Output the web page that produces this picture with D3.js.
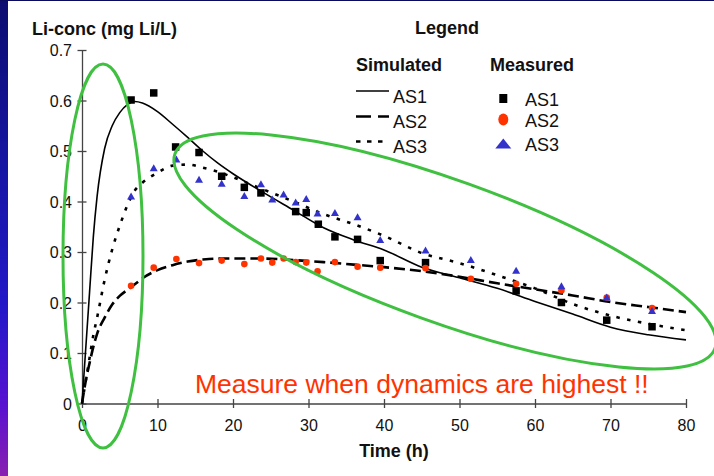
<!DOCTYPE html>
<html>
<head>
<meta charset="utf-8">
<script src="https://cdn.jsdelivr.net/npm/d3@7"></script>
<style>
  html, body { margin: 0; padding: 0; background: #fff; }
  svg { display: block; font-family: "Liberation Sans", Arial, sans-serif; }
</style>
</head>
<body>
<svg id="chart" width="714" height="476"></svg>
<script>
// Simulated Li concentration (mg Li/L) on a shared time grid (h)
const simTime = [0, 0.5, 1, 1.5, 2, 3, 4, 5, 6, 7, 8, 10, 12, 14, 16, 18, 20, 24, 28, 32, 36, 40, 45, 50, 55, 60, 65, 70, 75, 80];
const simAS1  = [0, 0.11, 0.22, 0.33, 0.41, 0.505, 0.55, 0.576, 0.592, 0.598, 0.595, 0.578, 0.553, 0.527, 0.500, 0.476, 0.455, 0.418, 0.383, 0.348, 0.324, 0.304, 0.270, 0.249, 0.228, 0.202, 0.177, 0.151, 0.136, 0.126];
const simAS2  = [0, 0.045, 0.08, 0.112, 0.138, 0.17, 0.196, 0.213, 0.225, 0.236, 0.248, 0.264, 0.274, 0.281, 0.285, 0.287, 0.287, 0.287, 0.284, 0.280, 0.275, 0.270, 0.262, 0.251, 0.238, 0.226, 0.214, 0.201, 0.191, 0.181];
const simAS3  = [0, 0.045, 0.09, 0.135, 0.17, 0.245, 0.305, 0.352, 0.392, 0.422, 0.437, 0.457, 0.471, 0.473, 0.467, 0.459, 0.448, 0.424, 0.400, 0.375, 0.355, 0.332, 0.298, 0.278, 0.254, 0.228, 0.197, 0.174, 0.158, 0.145];

// Measured samples
const measTimeAS1 = [6.5, 9.5, 12.4, 15.5, 18.5, 21.5, 23.7, 28.3, 29.7, 31.3, 33.5, 36.5, 39.5, 45.5, 57.5, 63.5, 69.5, 75.5];
const measAS1     = [0.601, 0.615, 0.508, 0.497, 0.450, 0.428, 0.417, 0.380, 0.378, 0.355, 0.330, 0.325, 0.283, 0.279, 0.223, 0.200, 0.165, 0.152];
const measTime    = [6.5, 9.5, 12.5, 15.5, 18.5, 21.5, 23.7, 25.2, 26.7, 28.3, 29.7, 31.2, 33.5, 36.5, 39.5, 45.5, 51.5, 57.5, 63.5, 69.5, 75.5];
const measAS2     = [0.233, 0.269, 0.286, 0.278, 0.283, 0.276, 0.287, 0.279, 0.287, 0.280, 0.279, 0.262, 0.280, 0.271, 0.269, 0.268, 0.247, 0.237, 0.224, 0.210, 0.189];
const measAS3     = [0.411, 0.467, 0.484, 0.444, 0.436, 0.412, 0.435, 0.405, 0.415, 0.399, 0.406, 0.377, 0.378, 0.370, 0.325, 0.304, 0.285, 0.264, 0.233, 0.211, 0.184];

const xTicks = [0, 10, 20, 30, 40, 50, 60, 70, 80];
const yTicks = [0, 0.1, 0.2, 0.3, 0.4, 0.5, 0.6, 0.7];
const seriesNames = ["AS1", "AS2", "AS3"];

const svg = d3.select("#chart");
const W = 714, H = 476;

// Slide background: white page with a coloured left edge
const defs = svg.append("defs");
const grad = defs.append("linearGradient").attr("id", "edge").attr("x1", 0).attr("y1", 0).attr("x2", 0).attr("y2", 1);
[[0, "#0c0c70"], [0.35, "#1616a4"], [0.65, "#2418c8"], [0.85, "#5812d0"], [1, "#8a20b0"]]
  .forEach(([o, c]) => grad.append("stop").attr("offset", o).attr("stop-color", c));
svg.append("rect").attr("width", W).attr("height", H).attr("fill", "#fff");
svg.append("rect").attr("x", 0).attr("y", 0).attr("width", 8).attr("height", H).attr("fill", "url(#edge)");
svg.append("rect").attr("x", 0).attr("y", 0).attr("width", W).attr("height", 1).attr("fill", "#0a0a60");

const x = d3.scaleLinear().domain([0, 80]).range([82, 686]);
const y = d3.scaleLinear().domain([0, 0.7]).range([403.5, 50]);

const axisColor = "#444";

// X axis with ticks crossing the line
const gx = svg.append("g").attr("transform", `translate(0,${y(0)})`)
  .call(d3.axisBottom(x).tickValues(xTicks).tickSizeOuter(0).tickFormat(d3.format("d")));
gx.select(".domain").attr("stroke", axisColor).attr("stroke-width", 1.3);
gx.selectAll(".tick line").attr("y1", -4.5).attr("y2", 4.5).attr("stroke", axisColor).attr("stroke-width", 1.3);
gx.selectAll(".tick text").attr("y", 27.5).attr("dy", null).attr("font-size", 16).attr("fill", "#111")
  .attr("font-family", "Liberation Sans, Arial, sans-serif");

// Y axis
const gy = svg.append("g").attr("transform", `translate(${x(0)},0)`)
  .call(d3.axisLeft(y).tickValues(yTicks).tickSizeOuter(0).tickFormat(d => d === 0 ? "0" : d3.format(".1f")(d)));
gy.select(".domain").attr("stroke", axisColor).attr("stroke-width", 1.3);
gy.selectAll(".tick line").attr("x1", -4.5).attr("x2", 4.5).attr("stroke", axisColor).attr("stroke-width", 1.3);
gy.selectAll(".tick text").attr("x", -10).attr("dy", "0.36em").attr("font-size", 16).attr("fill", "#111")
  .attr("font-family", "Liberation Sans, Arial, sans-serif");

// Axis titles
svg.append("text").attr("x", 32).attr("y", 35).attr("font-size", 18).attr("font-weight", "bold")
  .attr("fill", "#111").text("Li-conc (mg Li/L)");
svg.append("text").attr("x", 394).attr("y", 457).attr("text-anchor", "middle").attr("font-size", 18)
  .attr("font-weight", "bold").attr("fill", "#111").text("Time (h)");

// Simulated curves
const lineStyles = [
  { dash: null, width: 1.6 },
  { dash: "11,5", width: 2.6 },
  { dash: "3.5,7.5", width: 2.6 }
];
const simSeries = [simAS1, simAS2, simAS3];
const line = d3.line().x(d => x(d[0])).y(d => y(d[1])).curve(d3.curveMonotoneX);
simSeries.forEach((vals, i) => {
  svg.append("path")
    .datum(simTime.map((t, k) => [t, vals[k]]))
    .attr("d", line)
    .attr("fill", "none")
    .attr("stroke", "#000")
    .attr("stroke-width", lineStyles[i].width)
    .attr("stroke-dasharray", lineStyles[i].dash);
});

// Measured points
const sq = 7.5;
svg.append("g").selectAll("rect").data(measTimeAS1.map((t, k) => [t, measAS1[k]])).join("rect")
  .attr("x", d => x(d[0]) - sq / 2).attr("y", d => y(d[1]) - sq / 2)
  .attr("width", sq).attr("height", sq).attr("fill", "#000");
svg.append("g").selectAll("circle").data(measTime.map((t, k) => [t, measAS2[k]])).join("circle")
  .attr("cx", d => x(d[0])).attr("cy", d => y(d[1])).attr("r", 3.3).attr("fill", "#ff3300");
const tri = (cx, cy, w, h) => `M${cx - w / 2},${cy + h / 2}L${cx + w / 2},${cy + h / 2}L${cx},${cy - h / 2}Z`;
svg.append("g").selectAll("path").data(measTime.map((t, k) => [t, measAS3[k]])).join("path")
  .attr("d", d => tri(x(d[0]), y(d[1]), 8, 7)).attr("fill", "#3333cc");

// Legend
const lg = svg.append("g").attr("font-size", 18).attr("fill", "#111");
lg.append("text").attr("x", 447).attr("y", 34).attr("text-anchor", "middle").attr("font-weight", "bold").text("Legend");
lg.append("text").attr("x", 356).attr("y", 71).attr("font-weight", "bold").text("Simulated");
lg.append("text").attr("x", 490).attr("y", 71).attr("font-weight", "bold").text("Measured");
const lgY = [91, 116.5, 141.5];
seriesNames.forEach((name, i) => {
  lg.append("line").attr("x1", 356).attr("x2", 389).attr("y1", lgY[i]).attr("y2", lgY[i])
    .attr("stroke", "#000").attr("stroke-width", lineStyles[i].width)
    .attr("stroke-dasharray", i === 1 ? "15,7" : lineStyles[i].dash ? "4.5,6.5" : null);
  lg.append("text").attr("x", 393).attr("y", lgY[i] + 11.5).text(name);
});
const mY = [98.5, 119.5, 143.5];
lg.append("rect").attr("x", 503.3 - 4).attr("y", mY[0] - 4.5).attr("width", 8).attr("height", 9).attr("fill", "#000");
lg.append("ellipse").attr("cx", 503.3).attr("cy", mY[1]).attr("rx", 5).attr("ry", 6).attr("fill", "#ff3300");
lg.append("path").attr("d", tri(503.3, mY[2], 16, 10)).attr("fill", "#3333cc");
seriesNames.forEach((name, i) => {
  lg.append("text").attr("x", 525).attr("y", mY[i] + 7.5).text(name);
});

// Annotation
svg.append("text").attr("x", 195).attr("y", 393).attr("font-size", 26.5).attr("fill", "#ff3300")
  .text("Measure when dynamics are highest !!");

// Highlight ellipses
const green = "#40c040";
svg.append("ellipse").attr("cx", 103).attr("cy", 256).attr("rx", 40).attr("ry", 192)
  .attr("fill", "none").attr("stroke", green).attr("stroke-width", 3);
svg.append("ellipse").attr("cx", 0).attr("cy", 0).attr("rx", 287).attr("ry", 71)
  .attr("transform", "translate(445,251) rotate(19.8)")
  .attr("fill", "none").attr("stroke", green).attr("stroke-width", 3);
</script>
</body>
</html>
